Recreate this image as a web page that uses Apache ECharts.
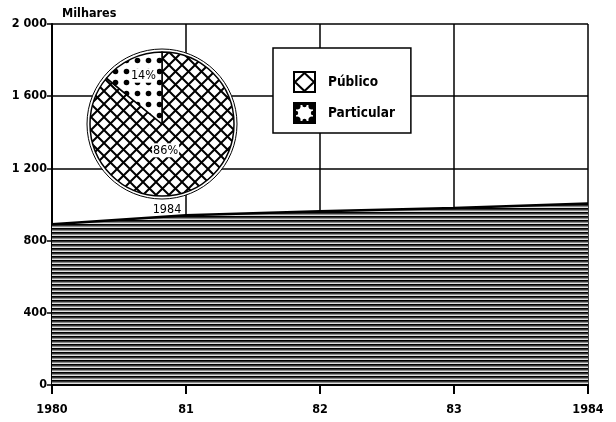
<!DOCTYPE html>
<html><head><meta charset="utf-8">
<script src="https://cdn.jsdelivr.net/npm/echarts@6/dist/echarts.min.js"></script>
<style>html,body{margin:0;padding:0;background:#fff}#c{width:616px;height:422px}</style>
</head><body><div id="c"></div>
<script>
const years = ['1980', '81', '82', '83', '1984'];
const matriculas = [890, 940, 962, 980, 1005];
const yTicks = [0, 400, 800, 1200, 1600, 2000];
const pieNames = ['Público', 'Particular'];
const pieValues = [86, 14];
const pieYear = '1984';
const unitLabel = 'Milhares';

function mk(w, h, draw) {
  const c = document.createElement('canvas'); c.width = w; c.height = h;
  const g = c.getContext('2d'); g.fillStyle = '#fff'; g.fillRect(0, 0, w, h); draw(g); return c;
}
const hatch = mk(4, 4, g => {
  g.fillStyle = '#000'; g.fillRect(0, 0, 4, 1);
  g.fillStyle = '#333'; g.fillRect(0, 1, 4, 1);
  g.fillStyle = '#8a8a8a'; g.fillRect(0, 2, 4, 1);
  g.fillStyle = '#e0e0e0'; g.fillRect(0, 3, 4, 1);
});
const cross = mk(13, 13, g => {
  g.strokeStyle = '#000'; g.lineWidth = 2; g.beginPath();
  g.moveTo(-1, -1); g.lineTo(14, 14); g.moveTo(14, -1); g.lineTo(-1, 14); g.stroke();
});
const dots = mk(11, 11, g => {
  g.fillStyle = '#000'; g.beginPath(); g.arc(5.5, 5.5, 2.8, 0, Math.PI * 2); g.fill();
});
const IW = 23, IH = 22;
const iconPub = mk(IW, IH, g => {
  g.strokeStyle = '#000'; g.lineWidth = 2;
  g.strokeRect(1, 1, IW - 2, IH - 2);
  g.beginPath();
  g.moveTo(IW / 2, 2); g.lineTo(IW - 2, IH / 2); g.lineTo(IW / 2, IH - 2); g.lineTo(2, IH / 2); g.closePath(); g.stroke();
});
const iconPart = mk(IW, IH, g => {
  g.fillStyle = '#000'; g.fillRect(0, 0, IW, IH);
  g.fillStyle = '#fff'; g.fillRect(3, 3, IW - 6, IH - 6);
  g.fillStyle = '#000';
  [[4, 4], [IW - 4, 4], [4, IH - 4], [IW - 4, IH - 4]].forEach(([x, y]) => { g.beginPath(); g.arc(x, y, 3.6, 0, Math.PI * 2); g.fill(); });
  [[IW / 2, 3], [IW / 2, IH - 3], [3, IH / 2], [IW - 3, IH / 2]].forEach(([x, y]) => { g.beginPath(); g.arc(x, y, 2.2, 0, Math.PI * 2); g.fill(); });
});
const fmt = v => String(v).replace(/\B(?=(\d{3})+(?!\d))/g, ' ');
const cond = "'DejaVu Sans Condensed', sans-serif";

const chart = echarts.init(document.getElementById('c'));
chart.setOption({
  animation: false,
  backgroundColor: '#fff',
  grid: { left: 52, right: 28, top: 24, bottom: 37 },
  title: {
    text: pieYear, left: 162, top: 198, textAlign: 'center',
    textStyle: { fontFamily: cond, fontSize: 12.5, fontWeight: 'normal', color: '#000' }
  },
  legend: {
    data: [
      { name: pieNames[0], icon: 'image://' + iconPub.toDataURL() },
      { name: pieNames[1], icon: 'image://' + iconPart.toDataURL() }
    ],
    orient: 'vertical', left: 273, top: 48,
    padding: [23, 16, 9, 20], itemWidth: IW, itemHeight: IH, itemGap: 9,
    backgroundColor: '#fff', borderColor: '#000', borderWidth: 1.5,
    textStyle: { fontFamily: cond, fontSize: 13.5, fontWeight: 'bold', color: '#000', padding: [0, 0, 0, 7] }
  },
  xAxis: {
    type: 'category', data: years, boundaryGap: false,
    axisLine: { lineStyle: { color: '#000', width: 2 } },
    axisTick: { show: true, length: 9, lineStyle: { color: '#000', width: 2 } },
    axisLabel: { margin: 18, fontFamily: cond, fontSize: 12.5, fontWeight: 'bold', color: '#000' },
    splitLine: { show: true, lineStyle: { color: '#000', width: 1.5 } }
  },
  yAxis: {
    type: 'value', min: yTicks[0], max: yTicks[yTicks.length - 1], interval: yTicks[1] - yTicks[0],
    name: unitLabel, nameLocation: 'end', nameGap: 4,
    nameTextStyle: { fontFamily: cond, fontSize: 12.5, fontWeight: 'bold', color: '#000', align: 'left', padding: [0, 0, 0, 10] },
    axisLine: { show: true, lineStyle: { color: '#000', width: 2 } },
    axisTick: { show: true, length: 5, lineStyle: { color: '#000', width: 1.5 } },
    axisLabel: { margin: 5, fontFamily: cond, fontSize: 12.5, fontWeight: 'bold', color: '#000', formatter: fmt },
    splitLine: { show: true, lineStyle: { color: '#000', width: 1.5 } }
  },
  series: [
    {
      type: 'line', name: 'Matrículas', data: matriculas, symbol: 'none', z: 3,
      lineStyle: { color: '#000', width: 2.5 },
      areaStyle: { color: { image: hatch, repeat: 'repeat' }, opacity: 1 }
    },
    {
      type: 'pie', name: 'anel', center: [162, 124], radius: 75, z: 4, silent: true,
      label: { show: false }, labelLine: { show: false },
      itemStyle: { color: '#fff', borderColor: '#000', borderWidth: 1 },
      data: [{ name: 'anel', value: 1 }]
    },
    {
      type: 'pie', name: 'Escolas', center: [162, 124], radius: 72, startAngle: 90, clockwise: true, z: 5,
      itemStyle: { borderColor: '#000', borderWidth: 1.5 },
      label: {
        show: true, position: 'inside', formatter: p => p.value + '%',
        fontFamily: cond, fontSize: 12.5, color: '#000', backgroundColor: '#fff', padding: [1, 1, 0, 1]
      },
      labelLine: { show: false },
      labelLayout: p => p.dataIndex === 0 ? { dx: -13, dy: -9 } : { dx: -2, dy: -13 },
      data: pieNames.map((n, i) => ({
        name: n, value: pieValues[i],
        itemStyle: { color: { image: i === 0 ? cross : dots, repeat: 'repeat' } }
      }))
    }
  ]
});
</script></body></html>
